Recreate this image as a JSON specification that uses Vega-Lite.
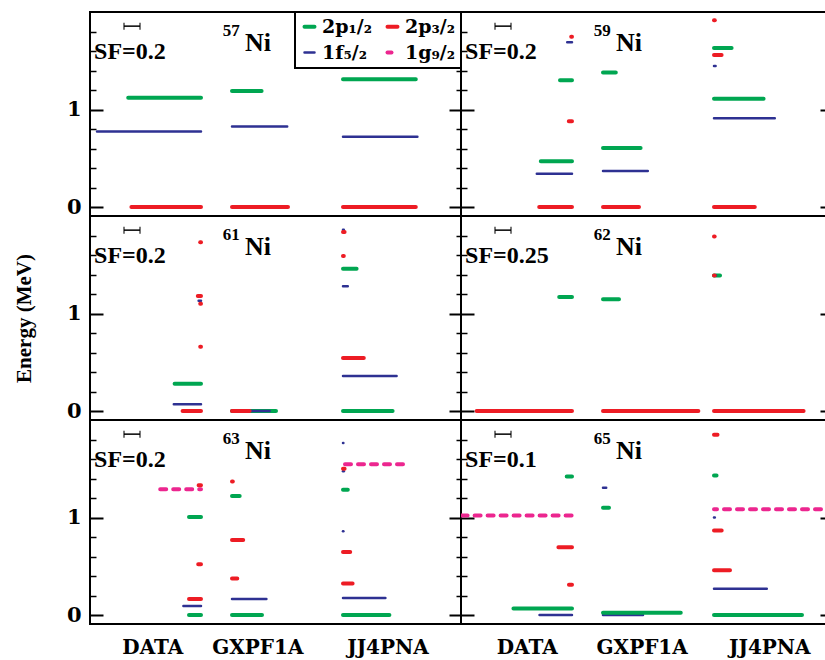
{
  "$schema": "https://vega.github.io/schema/vega-lite/v6.json",
  "background": "white",
  "padding": {"left": 12, "top": 10, "right": 0, "bottom": 0},
  "config": {
    "view": {"stroke": "black", "strokeWidth": 2},
    "concat": {"spacing": 0},
    "axis": {"domain": false, "grid": false, "labels": false, "tickColor": "black", "labelColor": "black", "titleColor": "black", "labelFont": "DejaVu Serif", "labelFontWeight": "bold", "titleFont": "Liberation Serif", "titleFontWeight": "bold", "labelFlush": false, "labelOverlap": false}
  },
  "datasets": {
    "levels": [
      {"nucleus": "57Ni", "model": "DATA", "orbital": "2p₁/₂", "energy": 1.12, "sf": 0.91},
      {"nucleus": "57Ni", "model": "DATA", "orbital": "1f₅/₂", "energy": 0.775, "sf": 1.30},
      {"nucleus": "57Ni", "model": "DATA", "orbital": "2p₃/₂", "energy": 0, "sf": 0.87},
      {"nucleus": "57Ni", "model": "GXPF1A", "orbital": "2p₁/₂", "energy": 1.19, "sf": 0.37},
      {"nucleus": "57Ni", "model": "GXPF1A", "orbital": "1f₅/₂", "energy": 0.825, "sf": 0.69},
      {"nucleus": "57Ni", "model": "GXPF1A", "orbital": "2p₃/₂", "energy": 0, "sf": 0.70},
      {"nucleus": "57Ni", "model": "JJ4PNA", "orbital": "2p₁/₂", "energy": 1.31, "sf": 0.91},
      {"nucleus": "57Ni", "model": "JJ4PNA", "orbital": "1f₅/₂", "energy": 0.72, "sf": 0.93},
      {"nucleus": "57Ni", "model": "JJ4PNA", "orbital": "2p₃/₂", "energy": 0, "sf": 0.91},

      {"nucleus": "59Ni", "model": "DATA", "orbital": "2p₁/₂", "energy": 1.30, "sf": 0.15},
      {"nucleus": "59Ni", "model": "DATA", "orbital": "2p₁/₂", "energy": 0.47, "sf": 0.39},
      {"nucleus": "59Ni", "model": "DATA", "orbital": "1f₅/₂", "energy": 1.69, "sf": 0.06},
      {"nucleus": "59Ni", "model": "DATA", "orbital": "1f₅/₂", "energy": 0.34, "sf": 0.44},
      {"nucleus": "59Ni", "model": "DATA", "orbital": "2p₃/₂", "energy": 1.745, "sf": 0.01},
      {"nucleus": "59Ni", "model": "DATA", "orbital": "2p₃/₂", "energy": 0.88, "sf": 0.04},
      {"nucleus": "59Ni", "model": "DATA", "orbital": "2p₃/₂", "energy": 0, "sf": 0.41},
      {"nucleus": "59Ni", "model": "GXPF1A", "orbital": "2p₁/₂", "energy": 1.38, "sf": 0.16},
      {"nucleus": "59Ni", "model": "GXPF1A", "orbital": "2p₁/₂", "energy": 0.605, "sf": 0.47},
      {"nucleus": "59Ni", "model": "GXPF1A", "orbital": "1f₅/₂", "energy": 0.37, "sf": 0.56},
      {"nucleus": "59Ni", "model": "GXPF1A", "orbital": "2p₃/₂", "energy": 0, "sf": 0.45},
      {"nucleus": "59Ni", "model": "JJ4PNA", "orbital": "2p₁/₂", "energy": 1.63, "sf": 0.22},
      {"nucleus": "59Ni", "model": "JJ4PNA", "orbital": "2p₁/₂", "energy": 1.11, "sf": 0.62},
      {"nucleus": "59Ni", "model": "JJ4PNA", "orbital": "1f₅/₂", "energy": 1.445, "sf": 0.02},
      {"nucleus": "59Ni", "model": "JJ4PNA", "orbital": "1f₅/₂", "energy": 0.91, "sf": 0.76},
      {"nucleus": "59Ni", "model": "JJ4PNA", "orbital": "2p₃/₂", "energy": 1.915, "sf": 0.01},
      {"nucleus": "59Ni", "model": "JJ4PNA", "orbital": "2p₃/₂", "energy": 1.56, "sf": 0.095},
      {"nucleus": "59Ni", "model": "JJ4PNA", "orbital": "2p₃/₂", "energy": 0, "sf": 0.51},

      {"nucleus": "61Ni", "model": "DATA", "orbital": "2p₁/₂", "energy": 0.28, "sf": 0.33},
      {"nucleus": "61Ni", "model": "DATA", "orbital": "1f₅/₂", "energy": 1.13, "sf": 0.03},
      {"nucleus": "61Ni", "model": "DATA", "orbital": "1f₅/₂", "energy": 0.07, "sf": 0.34},
      {"nucleus": "61Ni", "model": "DATA", "orbital": "2p₃/₂", "energy": 1.73, "sf": 0.01},
      {"nucleus": "61Ni", "model": "DATA", "orbital": "2p₃/₂", "energy": 1.18, "sf": 0.04},
      {"nucleus": "61Ni", "model": "DATA", "orbital": "2p₃/₂", "energy": 1.10, "sf": 0.01},
      {"nucleus": "61Ni", "model": "DATA", "orbital": "2p₃/₂", "energy": 0.66, "sf": 0.01},
      {"nucleus": "61Ni", "model": "DATA", "orbital": "2p₃/₂", "energy": 0, "sf": 0.23},
      {"nucleus": "61Ni", "model": "GXPF1A", "orbital": "2p₁/₂", "energy": 0, "sf": 0.55},
      {"nucleus": "61Ni", "model": "GXPF1A", "orbital": "1f₅/₂", "energy": 0, "sf": 0.47},
      {"nucleus": "61Ni", "model": "GXPF1A", "orbital": "2p₃/₂", "energy": 0, "sf": 0.22},
      {"nucleus": "61Ni", "model": "JJ4PNA", "orbital": "2p₁/₂", "energy": 1.46, "sf": 0.17},
      {"nucleus": "61Ni", "model": "JJ4PNA", "orbital": "2p₁/₂", "energy": 0, "sf": 0.62},
      {"nucleus": "61Ni", "model": "JJ4PNA", "orbital": "1f₅/₂", "energy": 1.86, "sf": 0.01},
      {"nucleus": "61Ni", "model": "JJ4PNA", "orbital": "1f₅/₂", "energy": 1.28, "sf": 0.06},
      {"nucleus": "61Ni", "model": "JJ4PNA", "orbital": "1f₅/₂", "energy": 0.36, "sf": 0.67},
      {"nucleus": "61Ni", "model": "JJ4PNA", "orbital": "2p₃/₂", "energy": 1.835, "sf": 0.02},
      {"nucleus": "61Ni", "model": "JJ4PNA", "orbital": "2p₃/₂", "energy": 1.59, "sf": 0.01},
      {"nucleus": "61Ni", "model": "JJ4PNA", "orbital": "2p₃/₂", "energy": 0.545, "sf": 0.26},

      {"nucleus": "62Ni", "model": "DATA", "orbital": "2p₁/₂", "energy": 1.17, "sf": 0.20},
      {"nucleus": "62Ni", "model": "DATA", "orbital": "2p₃/₂", "energy": 0, "sf": 1.49},
      {"nucleus": "62Ni", "model": "GXPF1A", "orbital": "2p₁/₂", "energy": 1.146, "sf": 0.25},
      {"nucleus": "62Ni", "model": "GXPF1A", "orbital": "2p₃/₂", "energy": 0, "sf": 1.49},
      {"nucleus": "62Ni", "model": "JJ4PNA", "orbital": "2p₁/₂", "energy": 1.39, "sf": 0.094},
      {"nucleus": "62Ni", "model": "JJ4PNA", "orbital": "1f₅/₂", "energy": 1.39, "sf": 0.03},
      {"nucleus": "62Ni", "model": "JJ4PNA", "orbital": "2p₃/₂", "energy": 1.79, "sf": 0.01},
      {"nucleus": "62Ni", "model": "JJ4PNA", "orbital": "2p₃/₂", "energy": 1.39, "sf": 0.01},
      {"nucleus": "62Ni", "model": "JJ4PNA", "orbital": "2p₃/₂", "energy": 0, "sf": 1.40},

      {"nucleus": "63Ni", "model": "DATA", "orbital": "1g₉/₂", "energy": 1.29, "sf": 0.51},
      {"nucleus": "63Ni", "model": "DATA", "orbital": "2p₁/₂", "energy": 1.005, "sf": 0.15},
      {"nucleus": "63Ni", "model": "DATA", "orbital": "2p₁/₂", "energy": 0, "sf": 0.15},
      {"nucleus": "63Ni", "model": "DATA", "orbital": "1f₅/₂", "energy": 0.092, "sf": 0.22},
      {"nucleus": "63Ni", "model": "DATA", "orbital": "2p₃/₂", "energy": 1.33, "sf": 0.03},
      {"nucleus": "63Ni", "model": "DATA", "orbital": "2p₃/₂", "energy": 0.52, "sf": 0.035},
      {"nucleus": "63Ni", "model": "DATA", "orbital": "2p₃/₂", "energy": 0.164, "sf": 0.15},
      {"nucleus": "63Ni", "model": "GXPF1A", "orbital": "2p₁/₂", "energy": 1.22, "sf": 0.096},
      {"nucleus": "63Ni", "model": "GXPF1A", "orbital": "2p₁/₂", "energy": 0, "sf": 0.375},
      {"nucleus": "63Ni", "model": "GXPF1A", "orbital": "1f₅/₂", "energy": 0.164, "sf": 0.43},
      {"nucleus": "63Ni", "model": "GXPF1A", "orbital": "2p₃/₂", "energy": 1.37, "sf": 0.01},
      {"nucleus": "63Ni", "model": "GXPF1A", "orbital": "2p₃/₂", "energy": 0.77, "sf": 0.14},
      {"nucleus": "63Ni", "model": "GXPF1A", "orbital": "2p₃/₂", "energy": 0.375, "sf": 0.066},
      {"nucleus": "63Ni", "model": "JJ4PNA", "orbital": "1g₉/₂", "energy": 1.547, "sf": 0.75},
      {"nucleus": "63Ni", "model": "JJ4PNA", "orbital": "2p₁/₂", "energy": 1.285, "sf": 0.06},
      {"nucleus": "63Ni", "model": "JJ4PNA", "orbital": "2p₁/₂", "energy": 0, "sf": 0.58},
      {"nucleus": "63Ni", "model": "JJ4PNA", "orbital": "1f₅/₂", "energy": 1.765, "sf": 0.005},
      {"nucleus": "63Ni", "model": "JJ4PNA", "orbital": "1f₅/₂", "energy": 1.475, "sf": 0.01},
      {"nucleus": "63Ni", "model": "JJ4PNA", "orbital": "1f₅/₂", "energy": 0.86, "sf": 0.005},
      {"nucleus": "63Ni", "model": "JJ4PNA", "orbital": "1f₅/₂", "energy": 0.174, "sf": 0.53},
      {"nucleus": "63Ni", "model": "JJ4PNA", "orbital": "2p₃/₂", "energy": 1.50, "sf": 0.02},
      {"nucleus": "63Ni", "model": "JJ4PNA", "orbital": "2p₃/₂", "energy": 0.647, "sf": 0.09},
      {"nucleus": "63Ni", "model": "JJ4PNA", "orbital": "2p₃/₂", "energy": 0.324, "sf": 0.12},

      {"nucleus": "65Ni", "model": "DATA", "orbital": "1g₉/₂", "energy": 1.02, "sf": 0.69},
      {"nucleus": "65Ni", "model": "DATA", "orbital": "2p₁/₂", "energy": 1.42, "sf": 0.033},
      {"nucleus": "65Ni", "model": "DATA", "orbital": "2p₁/₂", "energy": 0.068, "sf": 0.366},
      {"nucleus": "65Ni", "model": "DATA", "orbital": "1f₅/₂", "energy": 0, "sf": 0.203},
      {"nucleus": "65Ni", "model": "DATA", "orbital": "2p₃/₂", "energy": 0.695, "sf": 0.085},
      {"nucleus": "65Ni", "model": "DATA", "orbital": "2p₃/₂", "energy": 0.31, "sf": 0.019},
      {"nucleus": "65Ni", "model": "GXPF1A", "orbital": "1f₅/₂", "energy": 1.305, "sf": 0.02},
      {"nucleus": "65Ni", "model": "GXPF1A", "orbital": "1f₅/₂", "energy": 0, "sf": 0.25},
      {"nucleus": "65Ni", "model": "GXPF1A", "orbital": "2p₁/₂", "energy": 1.10, "sf": 0.0375},
      {"nucleus": "65Ni", "model": "GXPF1A", "orbital": "2p₁/₂", "energy": 0.024, "sf": 0.486},
      {"nucleus": "65Ni", "model": "JJ4PNA", "orbital": "1g₉/₂", "energy": 1.085, "sf": 0.75},
      {"nucleus": "65Ni", "model": "JJ4PNA", "orbital": "2p₁/₂", "energy": 1.43, "sf": 0.016},
      {"nucleus": "65Ni", "model": "JJ4PNA", "orbital": "2p₁/₂", "energy": 0, "sf": 0.55},
      {"nucleus": "65Ni", "model": "JJ4PNA", "orbital": "1f₅/₂", "energy": 1.0, "sf": 0.005},
      {"nucleus": "65Ni", "model": "JJ4PNA", "orbital": "1f₅/₂", "energy": 0.269, "sf": 0.33},
      {"nucleus": "65Ni", "model": "JJ4PNA", "orbital": "2p₃/₂", "energy": 1.85, "sf": 0.022},
      {"nucleus": "65Ni", "model": "JJ4PNA", "orbital": "2p₃/₂", "energy": 0.866, "sf": 0.048},
      {"nucleus": "65Ni", "model": "JJ4PNA", "orbital": "2p₃/₂", "energy": 0.46, "sf": 0.10}
    ],
    "panels": [
      {"nucleus": "57Ni", "mass": "57", "element": "Ni", "sfLabel": "SF=0.2", "sfRef": 0.2},
      {"nucleus": "59Ni", "mass": "59", "element": "Ni", "sfLabel": "SF=0.2", "sfRef": 0.2},
      {"nucleus": "61Ni", "mass": "61", "element": "Ni", "sfLabel": "SF=0.2", "sfRef": 0.2},
      {"nucleus": "62Ni", "mass": "62", "element": "Ni", "sfLabel": "SF=0.25", "sfRef": 0.25},
      {"nucleus": "63Ni", "mass": "63", "element": "Ni", "sfLabel": "SF=0.2", "sfRef": 0.2},
      {"nucleus": "65Ni", "mass": "65", "element": "Ni", "sfLabel": "SF=0.1", "sfRef": 0.1}
    ]
  },
  "resolve": {"legend": {"color": "independent"}},
  "columns": 2,
  "spacing": 0,
  "bounds": "flush",
  "concat": [
        {
          "width": 371, "height": 204,
          "data": {"name": "levels"},
          "resolve": {"scale": {"x": "independent"}, "axis": {"x": "independent", "y": "independent"}},
          "layer": [
            {"transform": [{"filter": "datum.nucleus === '57Ni' && datum.model === 'DATA'"}],
             "mark": {"type": "rule", "strokeCap": "round", "clip": true},
             "encoding": {
               "x": {"field": "sf", "type": "quantitative", "scale": {"domain": [-3.25, 1.3875], "reverse": true, "nice": false, "zero": false}, "axis": null},
               "x2": {"datum": 0},
               "y": {"field": "energy", "type": "quantitative", "scale": {"domain": [-0.092, 2.0], "nice": false, "zero": false}, "axis": {"orient": "left", "offset": 0, "values": [0, 1], "ticks": false, "labels": true, "labelAlign": "right", "labelFontSize": 21, "labelPadding": 9, "title": "Energy (MeV)", "titleFontSize": 21, "titlePadding": 32, "titleOpacity": 0}},
               "color": {"field": "orbital", "type": "nominal", "scale": {"domain": ["2p₁/₂", "2p₃/₂", "1f₅/₂", "1g₉/₂"], "range": ["#00a651", "#ed1c24", "#2e3192", "#ec268f"]},
                 "legend": {"orient": "top-right", "offset": 0, "title": null, "direction": "horizontal", "columns": 2, "symbolType": "stroke", "symbolSize": 100, "symbolStrokeWidth": 4, "labelFont": "DejaVu Serif", "labelFontWeight": "bold", "labelFontSize": 19, "labelColor": "black", "labelOffset": 3, "labelLimit": 0, "columnPadding": 6, "rowPadding": 6, "padding": 5, "strokeColor": "black", "fillColor": "white",
                   "encode": {"legend": {"update": {"strokeWidth": {"value": 2}}}, "symbols": {"update": {"strokeCap": {"value": "round"}, "strokeWidth": {"signal": "datum.value === '1f₅/₂' ? 2.5 : 4"}, "strokeDash": {"signal": "datum.value === '1g₉/₂' ? [4, 6] : [1, 0]"}}}}}},
               "strokeWidth": {"condition": {"test": "datum.orbital === '1f₅/₂'", "value": 2.5}, "value": 4},
               "strokeDash": {"condition": {"test": "datum.orbital === '1g₉/₂'", "value": [6, 7]}, "value": [1, 0]}
             }},
            {"transform": [{"filter": "datum.nucleus === '57Ni' && datum.model === 'GXPF1A'"}],
             "mark": {"type": "rule", "strokeCap": "round", "clip": true},
             "encoding": {
               "x": {"field": "sf", "type": "quantitative", "scale": {"domain": [-1.775, 2.8625], "nice": false, "zero": false}, "axis": null},
               "x2": {"datum": 0},
               "y": {"field": "energy", "type": "quantitative", "scale": {"domain": [-0.092, 2.0], "nice": false, "zero": false}, "axis": {"orient": "left", "values": [0, 1], "tickSize": -13, "tickWidth": 2, "title": null}},
               "color": {"field": "orbital", "type": "nominal", "scale": {"domain": ["2p₁/₂", "2p₃/₂", "1f₅/₂", "1g₉/₂"], "range": ["#00a651", "#ed1c24", "#2e3192", "#ec268f"]},
                 "legend": {"orient": "top-right", "offset": 0, "title": null, "direction": "horizontal", "columns": 2, "symbolType": "stroke", "symbolSize": 100, "symbolStrokeWidth": 4, "labelFont": "DejaVu Serif", "labelFontWeight": "bold", "labelFontSize": 19, "labelColor": "black", "labelOffset": 3, "labelLimit": 0, "columnPadding": 6, "rowPadding": 6, "padding": 5, "strokeColor": "black", "fillColor": "white",
                   "encode": {"legend": {"update": {"strokeWidth": {"value": 2}}}, "symbols": {"update": {"strokeCap": {"value": "round"}, "strokeWidth": {"signal": "datum.value === '1f₅/₂' ? 2.5 : 4"}, "strokeDash": {"signal": "datum.value === '1g₉/₂' ? [4, 6] : [1, 0]"}}}}}},
               "strokeWidth": {"condition": {"test": "datum.orbital === '1f₅/₂'", "value": 2.5}, "value": 4},
               "strokeDash": {"condition": {"test": "datum.orbital === '1g₉/₂'", "value": [6, 7]}, "value": [1, 0]}
             }},
            {"transform": [{"filter": "datum.nucleus === '57Ni' && datum.model === 'JJ4PNA'"}],
             "mark": {"type": "rule", "strokeCap": "round", "clip": true},
             "encoding": {
               "x": {"field": "sf", "type": "quantitative", "scale": {"domain": [-3.1625, 1.475], "nice": false, "zero": false}, "axis": null},
               "x2": {"datum": 0},
               "y": {"field": "energy", "type": "quantitative", "scale": {"domain": [-0.092, 2.0], "nice": false, "zero": false}, "axis": {"orient": "left", "values": [0.2, 0.4, 0.6, 0.8, 1.2, 1.4, 1.6, 1.8], "tickSize": -6, "tickWidth": 1.5, "title": null}},
               "color": {"field": "orbital", "type": "nominal", "scale": {"domain": ["2p₁/₂", "2p₃/₂", "1f₅/₂", "1g₉/₂"], "range": ["#00a651", "#ed1c24", "#2e3192", "#ec268f"]},
                 "legend": {"orient": "top-right", "offset": 0, "title": null, "direction": "horizontal", "columns": 2, "symbolType": "stroke", "symbolSize": 100, "symbolStrokeWidth": 4, "labelFont": "DejaVu Serif", "labelFontWeight": "bold", "labelFontSize": 19, "labelColor": "black", "labelOffset": 3, "labelLimit": 0, "columnPadding": 6, "rowPadding": 6, "padding": 5, "strokeColor": "black", "fillColor": "white",
                   "encode": {"legend": {"update": {"strokeWidth": {"value": 2}}}, "symbols": {"update": {"strokeCap": {"value": "round"}, "strokeWidth": {"signal": "datum.value === '1f₅/₂' ? 2.5 : 4"}, "strokeDash": {"signal": "datum.value === '1g₉/₂' ? [4, 6] : [1, 0]"}}}}}},
               "strokeWidth": {"condition": {"test": "datum.orbital === '1f₅/₂'", "value": 2.5}, "value": 4},
               "strokeDash": {"condition": {"test": "datum.orbital === '1g₉/₂'", "value": [6, 7]}, "value": [1, 0]}
             }},
            {"data": {"name": "panels"},
             "transform": [{"filter": "datum.nucleus === '57Ni'"}],
             "layer": [
               {"mark": {"type": "text", "align": "left", "baseline": "alphabetic", "font": "Liberation Serif", "fontWeight": "bold", "fontSize": 17, "color": "black"},
                "encoding": {"text": {"field": "mass"}, "x": {"datum": 0.358, "type": "quantitative", "scale": {"domain": [0, 1], "nice": false, "zero": false}, "axis": null},
                  "y": {"datum": 1.75, "type": "quantitative", "scale": {"domain": [-0.092, 2.0], "nice": false, "zero": false}, "axis": {"orient": "right", "values": [0, 1], "tickSize": -12, "tickWidth": 2, "title": null}}}},
               {"mark": {"type": "text", "align": "left", "baseline": "alphabetic", "font": "Liberation Serif", "fontWeight": "bold", "fontSize": 26, "color": "black"},
                "encoding": {"text": {"field": "element"}, "x": {"datum": 0.418, "type": "quantitative", "scale": {"domain": [0, 1], "nice": false, "zero": false}, "axis": null},
                  "y": {"datum": 1.6, "type": "quantitative", "scale": {"domain": [-0.092, 2.0], "nice": false, "zero": false}, "axis": {"orient": "right", "values": [0, 1], "tickSize": -12, "tickWidth": 2, "title": null}}}},
               {"mark": {"type": "text", "align": "left", "baseline": "alphabetic", "font": "Liberation Serif", "fontWeight": "bold", "fontSize": 24, "color": "black"},
                "encoding": {"text": {"field": "sfLabel"}, "x": {"datum": 0.011, "type": "quantitative", "scale": {"domain": [0, 1], "nice": false, "zero": false}, "axis": null},
                  "y": {"datum": 1.515, "type": "quantitative", "scale": {"domain": [-0.092, 2.0], "nice": false, "zero": false}, "axis": {"orient": "right", "values": [0, 1], "tickSize": -12, "tickWidth": 2, "title": null}}}}
             ]},
            {"data": {"name": "panels"},
             "transform": [{"filter": "datum.nucleus === '57Ni'"}],
             "layer": [
               {"mark": {"type": "rule", "color": "black", "strokeWidth": 1.5},
                "encoding": {"x": {"field": "sfRef", "type": "quantitative", "scale": {"domain": [-0.425, 4.2125], "nice": false, "zero": false}, "axis": null}, "x2": {"datum": 0},
                  "y": {"datum": 1.855, "type": "quantitative", "scale": {"domain": [-0.092, 2.0], "nice": false, "zero": false}, "axis": {"orient": "right", "values": [0.2, 0.4, 0.6, 0.8, 1.2, 1.4, 1.6, 1.8], "tickSize": -5, "tickWidth": 1.5, "title": null}}}},
               {"mark": {"type": "tick", "orient": "vertical", "color": "black", "thickness": 1.5, "size": 7},
                "encoding": {"x": {"datum": 0, "type": "quantitative", "scale": {"domain": [-0.425, 4.2125], "nice": false, "zero": false}, "axis": null},
                  "y": {"datum": 1.855, "type": "quantitative", "scale": {"domain": [-0.092, 2.0], "nice": false, "zero": false}, "axis": {"orient": "right", "values": [0.2, 0.4, 0.6, 0.8, 1.2, 1.4, 1.6, 1.8], "tickSize": -5, "tickWidth": 1.5, "title": null}}}},
               {"mark": {"type": "tick", "orient": "vertical", "color": "black", "thickness": 1.5, "size": 7},
                "encoding": {"x": {"field": "sfRef", "type": "quantitative", "scale": {"domain": [-0.425, 4.2125], "nice": false, "zero": false}, "axis": null},
                  "y": {"datum": 1.855, "type": "quantitative", "scale": {"domain": [-0.092, 2.0], "nice": false, "zero": false}, "axis": {"orient": "right", "values": [0.2, 0.4, 0.6, 0.8, 1.2, 1.4, 1.6, 1.8], "tickSize": -5, "tickWidth": 1.5, "title": null}}}}
             ]}
          ]
        },
        {
          "width": 371, "height": 204,
          "data": {"name": "levels"},
          "resolve": {"scale": {"x": "independent"}, "axis": {"x": "independent", "y": "independent"}},
          "layer": [
            {"transform": [{"filter": "datum.nucleus === '59Ni' && datum.model === 'DATA'"}],
             "mark": {"type": "rule", "strokeCap": "round", "clip": true},
             "encoding": {
               "x": {"field": "sf", "type": "quantitative", "scale": {"domain": [-3.25, 1.3875], "reverse": true, "nice": false, "zero": false}, "axis": null},
               "x2": {"datum": 0},
               "y": {"field": "energy", "type": "quantitative", "scale": {"domain": [-0.092, 2.0], "nice": false, "zero": false}, "axis": {"orient": "left", "values": [0, 1], "tickSize": -13, "tickWidth": 2, "title": null}},
               "color": {"field": "orbital", "type": "nominal", "scale": {"domain": ["2p₁/₂", "2p₃/₂", "1f₅/₂", "1g₉/₂"], "range": ["#00a651", "#ed1c24", "#2e3192", "#ec268f"]}, "legend": null},
               "strokeWidth": {"condition": {"test": "datum.orbital === '1f₅/₂'", "value": 2.5}, "value": 4},
               "strokeDash": {"condition": {"test": "datum.orbital === '1g₉/₂'", "value": [6, 7]}, "value": [1, 0]}
             }},
            {"transform": [{"filter": "datum.nucleus === '59Ni' && datum.model === 'GXPF1A'"}],
             "mark": {"type": "rule", "strokeCap": "round", "clip": true},
             "encoding": {
               "x": {"field": "sf", "type": "quantitative", "scale": {"domain": [-1.775, 2.8625], "nice": false, "zero": false}, "axis": null},
               "x2": {"datum": 0},
               "y": {"field": "energy", "type": "quantitative", "scale": {"domain": [-0.092, 2.0], "nice": false, "zero": false}, "axis": {"orient": "left", "values": [0.2, 0.4, 0.6, 0.8, 1.2, 1.4, 1.6, 1.8], "tickSize": -6, "tickWidth": 1.5, "title": null}},
               "color": {"field": "orbital", "type": "nominal", "scale": {"domain": ["2p₁/₂", "2p₃/₂", "1f₅/₂", "1g₉/₂"], "range": ["#00a651", "#ed1c24", "#2e3192", "#ec268f"]}, "legend": null},
               "strokeWidth": {"condition": {"test": "datum.orbital === '1f₅/₂'", "value": 2.5}, "value": 4},
               "strokeDash": {"condition": {"test": "datum.orbital === '1g₉/₂'", "value": [6, 7]}, "value": [1, 0]}
             }},
            {"transform": [{"filter": "datum.nucleus === '59Ni' && datum.model === 'JJ4PNA'"}],
             "mark": {"type": "rule", "strokeCap": "round", "clip": true},
             "encoding": {
               "x": {"field": "sf", "type": "quantitative", "scale": {"domain": [-3.1625, 1.475], "nice": false, "zero": false}, "axis": null},
               "x2": {"datum": 0},
               "y": {"field": "energy", "type": "quantitative", "scale": {"domain": [-0.092, 2.0], "nice": false, "zero": false}, "axis": {"orient": "right", "values": [0, 1], "tickSize": -12, "tickWidth": 2, "title": null}},
               "color": {"field": "orbital", "type": "nominal", "scale": {"domain": ["2p₁/₂", "2p₃/₂", "1f₅/₂", "1g₉/₂"], "range": ["#00a651", "#ed1c24", "#2e3192", "#ec268f"]}, "legend": null},
               "strokeWidth": {"condition": {"test": "datum.orbital === '1f₅/₂'", "value": 2.5}, "value": 4},
               "strokeDash": {"condition": {"test": "datum.orbital === '1g₉/₂'", "value": [6, 7]}, "value": [1, 0]}
             }},
            {"data": {"name": "panels"},
             "transform": [{"filter": "datum.nucleus === '59Ni'"}],
             "layer": [
               {"mark": {"type": "text", "align": "left", "baseline": "alphabetic", "font": "Liberation Serif", "fontWeight": "bold", "fontSize": 17, "color": "black"},
                "encoding": {"text": {"field": "mass"}, "x": {"datum": 0.358, "type": "quantitative", "scale": {"domain": [0, 1], "nice": false, "zero": false}, "axis": null},
                  "y": {"datum": 1.75, "type": "quantitative", "scale": {"domain": [-0.092, 2.0], "nice": false, "zero": false}, "axis": {"orient": "right", "values": [0.2, 0.4, 0.6, 0.8, 1.2, 1.4, 1.6, 1.8], "tickSize": -5, "tickWidth": 1.5, "title": null}}}},
               {"mark": {"type": "text", "align": "left", "baseline": "alphabetic", "font": "Liberation Serif", "fontWeight": "bold", "fontSize": 26, "color": "black"},
                "encoding": {"text": {"field": "element"}, "x": {"datum": 0.418, "type": "quantitative", "scale": {"domain": [0, 1], "nice": false, "zero": false}, "axis": null},
                  "y": {"datum": 1.6, "type": "quantitative", "scale": {"domain": [-0.092, 2.0], "nice": false, "zero": false}, "axis": {"orient": "right", "values": [0.2, 0.4, 0.6, 0.8, 1.2, 1.4, 1.6, 1.8], "tickSize": -5, "tickWidth": 1.5, "title": null}}}},
               {"mark": {"type": "text", "align": "left", "baseline": "alphabetic", "font": "Liberation Serif", "fontWeight": "bold", "fontSize": 24, "color": "black"},
                "encoding": {"text": {"field": "sfLabel"}, "x": {"datum": 0.011, "type": "quantitative", "scale": {"domain": [0, 1], "nice": false, "zero": false}, "axis": null},
                  "y": {"datum": 1.515, "type": "quantitative", "scale": {"domain": [-0.092, 2.0], "nice": false, "zero": false}, "axis": {"orient": "right", "values": [0.2, 0.4, 0.6, 0.8, 1.2, 1.4, 1.6, 1.8], "tickSize": -5, "tickWidth": 1.5, "title": null}}}}
             ]},
            {"data": {"name": "panels"},
             "transform": [{"filter": "datum.nucleus === '59Ni'"}],
             "layer": [
               {"mark": {"type": "rule", "color": "black", "strokeWidth": 1.5},
                "encoding": {"x": {"field": "sfRef", "type": "quantitative", "scale": {"domain": [-0.425, 4.2125], "nice": false, "zero": false}, "axis": null}, "x2": {"datum": 0},
                  "y": {"datum": 1.855, "type": "quantitative", "scale": {"domain": [-0.092, 2.0], "nice": false, "zero": false}, "axis": null}}},
               {"mark": {"type": "tick", "orient": "vertical", "color": "black", "thickness": 1.5, "size": 7},
                "encoding": {"x": {"datum": 0, "type": "quantitative", "scale": {"domain": [-0.425, 4.2125], "nice": false, "zero": false}, "axis": null},
                  "y": {"datum": 1.855, "type": "quantitative", "scale": {"domain": [-0.092, 2.0], "nice": false, "zero": false}, "axis": null}}},
               {"mark": {"type": "tick", "orient": "vertical", "color": "black", "thickness": 1.5, "size": 7},
                "encoding": {"x": {"field": "sfRef", "type": "quantitative", "scale": {"domain": [-0.425, 4.2125], "nice": false, "zero": false}, "axis": null},
                  "y": {"datum": 1.855, "type": "quantitative", "scale": {"domain": [-0.092, 2.0], "nice": false, "zero": false}, "axis": null}}}
             ]}
          ]
        },
        {
          "width": 371, "height": 204,
          "data": {"name": "levels"},
          "resolve": {"scale": {"x": "independent"}, "axis": {"x": "independent", "y": "independent"}},
          "layer": [
            {"transform": [{"filter": "datum.nucleus === '61Ni' && datum.model === 'DATA'"}],
             "mark": {"type": "rule", "strokeCap": "round", "clip": true},
             "encoding": {
               "x": {"field": "sf", "type": "quantitative", "scale": {"domain": [-3.25, 1.3875], "reverse": true, "nice": false, "zero": false}, "axis": null},
               "x2": {"datum": 0},
               "y": {"field": "energy", "type": "quantitative", "scale": {"domain": [-0.092, 2.0], "nice": false, "zero": false}, "axis": {"orient": "left", "offset": 0, "values": [0, 1], "ticks": false, "labels": true, "labelAlign": "right", "labelFontSize": 21, "labelPadding": 9, "title": "Energy (MeV)", "titleFontSize": 21, "titlePadding": 32}},
               "color": {"field": "orbital", "type": "nominal", "scale": {"domain": ["2p₁/₂", "2p₃/₂", "1f₅/₂", "1g₉/₂"], "range": ["#00a651", "#ed1c24", "#2e3192", "#ec268f"]}, "legend": null},
               "strokeWidth": {"condition": {"test": "datum.orbital === '1f₅/₂'", "value": 2.5}, "value": 4},
               "strokeDash": {"condition": {"test": "datum.orbital === '1g₉/₂'", "value": [6, 7]}, "value": [1, 0]}
             }},
            {"transform": [{"filter": "datum.nucleus === '61Ni' && datum.model === 'GXPF1A'"}],
             "mark": {"type": "rule", "strokeCap": "round", "clip": true},
             "encoding": {
               "x": {"field": "sf", "type": "quantitative", "scale": {"domain": [-1.775, 2.8625], "nice": false, "zero": false}, "axis": null},
               "x2": {"datum": 0},
               "y": {"field": "energy", "type": "quantitative", "scale": {"domain": [-0.092, 2.0], "nice": false, "zero": false}, "axis": {"orient": "left", "values": [0, 1], "tickSize": -13, "tickWidth": 2, "title": null}},
               "color": {"field": "orbital", "type": "nominal", "scale": {"domain": ["2p₁/₂", "2p₃/₂", "1f₅/₂", "1g₉/₂"], "range": ["#00a651", "#ed1c24", "#2e3192", "#ec268f"]}, "legend": null},
               "strokeWidth": {"condition": {"test": "datum.orbital === '1f₅/₂'", "value": 2.5}, "value": 4},
               "strokeDash": {"condition": {"test": "datum.orbital === '1g₉/₂'", "value": [6, 7]}, "value": [1, 0]}
             }},
            {"transform": [{"filter": "datum.nucleus === '61Ni' && datum.model === 'JJ4PNA'"}],
             "mark": {"type": "rule", "strokeCap": "round", "clip": true},
             "encoding": {
               "x": {"field": "sf", "type": "quantitative", "scale": {"domain": [-3.1625, 1.475], "nice": false, "zero": false}, "axis": null},
               "x2": {"datum": 0},
               "y": {"field": "energy", "type": "quantitative", "scale": {"domain": [-0.092, 2.0], "nice": false, "zero": false}, "axis": {"orient": "left", "values": [0.2, 0.4, 0.6, 0.8, 1.2, 1.4, 1.6, 1.8], "tickSize": -6, "tickWidth": 1.5, "title": null}},
               "color": {"field": "orbital", "type": "nominal", "scale": {"domain": ["2p₁/₂", "2p₃/₂", "1f₅/₂", "1g₉/₂"], "range": ["#00a651", "#ed1c24", "#2e3192", "#ec268f"]}, "legend": null},
               "strokeWidth": {"condition": {"test": "datum.orbital === '1f₅/₂'", "value": 2.5}, "value": 4},
               "strokeDash": {"condition": {"test": "datum.orbital === '1g₉/₂'", "value": [6, 7]}, "value": [1, 0]}
             }},
            {"data": {"name": "panels"},
             "transform": [{"filter": "datum.nucleus === '61Ni'"}],
             "layer": [
               {"mark": {"type": "text", "align": "left", "baseline": "alphabetic", "font": "Liberation Serif", "fontWeight": "bold", "fontSize": 17, "color": "black"},
                "encoding": {"text": {"field": "mass"}, "x": {"datum": 0.358, "type": "quantitative", "scale": {"domain": [0, 1], "nice": false, "zero": false}, "axis": null},
                  "y": {"datum": 1.75, "type": "quantitative", "scale": {"domain": [-0.092, 2.0], "nice": false, "zero": false}, "axis": {"orient": "right", "values": [0, 1], "tickSize": -12, "tickWidth": 2, "title": null}}}},
               {"mark": {"type": "text", "align": "left", "baseline": "alphabetic", "font": "Liberation Serif", "fontWeight": "bold", "fontSize": 26, "color": "black"},
                "encoding": {"text": {"field": "element"}, "x": {"datum": 0.418, "type": "quantitative", "scale": {"domain": [0, 1], "nice": false, "zero": false}, "axis": null},
                  "y": {"datum": 1.6, "type": "quantitative", "scale": {"domain": [-0.092, 2.0], "nice": false, "zero": false}, "axis": {"orient": "right", "values": [0, 1], "tickSize": -12, "tickWidth": 2, "title": null}}}},
               {"mark": {"type": "text", "align": "left", "baseline": "alphabetic", "font": "Liberation Serif", "fontWeight": "bold", "fontSize": 24, "color": "black"},
                "encoding": {"text": {"field": "sfLabel"}, "x": {"datum": 0.011, "type": "quantitative", "scale": {"domain": [0, 1], "nice": false, "zero": false}, "axis": null},
                  "y": {"datum": 1.515, "type": "quantitative", "scale": {"domain": [-0.092, 2.0], "nice": false, "zero": false}, "axis": {"orient": "right", "values": [0, 1], "tickSize": -12, "tickWidth": 2, "title": null}}}}
             ]},
            {"data": {"name": "panels"},
             "transform": [{"filter": "datum.nucleus === '61Ni'"}],
             "layer": [
               {"mark": {"type": "rule", "color": "black", "strokeWidth": 1.5},
                "encoding": {"x": {"field": "sfRef", "type": "quantitative", "scale": {"domain": [-0.425, 4.2125], "nice": false, "zero": false}, "axis": null}, "x2": {"datum": 0},
                  "y": {"datum": 1.855, "type": "quantitative", "scale": {"domain": [-0.092, 2.0], "nice": false, "zero": false}, "axis": {"orient": "right", "values": [0.2, 0.4, 0.6, 0.8, 1.2, 1.4, 1.6, 1.8], "tickSize": -5, "tickWidth": 1.5, "title": null}}}},
               {"mark": {"type": "tick", "orient": "vertical", "color": "black", "thickness": 1.5, "size": 7},
                "encoding": {"x": {"datum": 0, "type": "quantitative", "scale": {"domain": [-0.425, 4.2125], "nice": false, "zero": false}, "axis": null},
                  "y": {"datum": 1.855, "type": "quantitative", "scale": {"domain": [-0.092, 2.0], "nice": false, "zero": false}, "axis": {"orient": "right", "values": [0.2, 0.4, 0.6, 0.8, 1.2, 1.4, 1.6, 1.8], "tickSize": -5, "tickWidth": 1.5, "title": null}}}},
               {"mark": {"type": "tick", "orient": "vertical", "color": "black", "thickness": 1.5, "size": 7},
                "encoding": {"x": {"field": "sfRef", "type": "quantitative", "scale": {"domain": [-0.425, 4.2125], "nice": false, "zero": false}, "axis": null},
                  "y": {"datum": 1.855, "type": "quantitative", "scale": {"domain": [-0.092, 2.0], "nice": false, "zero": false}, "axis": {"orient": "right", "values": [0.2, 0.4, 0.6, 0.8, 1.2, 1.4, 1.6, 1.8], "tickSize": -5, "tickWidth": 1.5, "title": null}}}}
             ]}
          ]
        },
        {
          "width": 371, "height": 204,
          "data": {"name": "levels"},
          "resolve": {"scale": {"x": "independent"}, "axis": {"x": "independent", "y": "independent"}},
          "layer": [
            {"transform": [{"filter": "datum.nucleus === '62Ni' && datum.model === 'DATA'"}],
             "mark": {"type": "rule", "strokeCap": "round", "clip": true},
             "encoding": {
               "x": {"field": "sf", "type": "quantitative", "scale": {"domain": [-4.0625, 1.734375], "reverse": true, "nice": false, "zero": false}, "axis": null},
               "x2": {"datum": 0},
               "y": {"field": "energy", "type": "quantitative", "scale": {"domain": [-0.092, 2.0], "nice": false, "zero": false}, "axis": {"orient": "left", "values": [0, 1], "tickSize": -13, "tickWidth": 2, "title": null}},
               "color": {"field": "orbital", "type": "nominal", "scale": {"domain": ["2p₁/₂", "2p₃/₂", "1f₅/₂", "1g₉/₂"], "range": ["#00a651", "#ed1c24", "#2e3192", "#ec268f"]}, "legend": null},
               "strokeWidth": {"condition": {"test": "datum.orbital === '1f₅/₂'", "value": 2.5}, "value": 4},
               "strokeDash": {"condition": {"test": "datum.orbital === '1g₉/₂'", "value": [6, 7]}, "value": [1, 0]}
             }},
            {"transform": [{"filter": "datum.nucleus === '62Ni' && datum.model === 'GXPF1A'"}],
             "mark": {"type": "rule", "strokeCap": "round", "clip": true},
             "encoding": {
               "x": {"field": "sf", "type": "quantitative", "scale": {"domain": [-2.21875, 3.578125], "nice": false, "zero": false}, "axis": null},
               "x2": {"datum": 0},
               "y": {"field": "energy", "type": "quantitative", "scale": {"domain": [-0.092, 2.0], "nice": false, "zero": false}, "axis": {"orient": "left", "values": [0.2, 0.4, 0.6, 0.8, 1.2, 1.4, 1.6, 1.8], "tickSize": -6, "tickWidth": 1.5, "title": null}},
               "color": {"field": "orbital", "type": "nominal", "scale": {"domain": ["2p₁/₂", "2p₃/₂", "1f₅/₂", "1g₉/₂"], "range": ["#00a651", "#ed1c24", "#2e3192", "#ec268f"]}, "legend": null},
               "strokeWidth": {"condition": {"test": "datum.orbital === '1f₅/₂'", "value": 2.5}, "value": 4},
               "strokeDash": {"condition": {"test": "datum.orbital === '1g₉/₂'", "value": [6, 7]}, "value": [1, 0]}
             }},
            {"transform": [{"filter": "datum.nucleus === '62Ni' && datum.model === 'JJ4PNA'"}],
             "mark": {"type": "rule", "strokeCap": "round", "clip": true},
             "encoding": {
               "x": {"field": "sf", "type": "quantitative", "scale": {"domain": [-3.953125, 1.84375], "nice": false, "zero": false}, "axis": null},
               "x2": {"datum": 0},
               "y": {"field": "energy", "type": "quantitative", "scale": {"domain": [-0.092, 2.0], "nice": false, "zero": false}, "axis": {"orient": "right", "values": [0, 1], "tickSize": -12, "tickWidth": 2, "title": null}},
               "color": {"field": "orbital", "type": "nominal", "scale": {"domain": ["2p₁/₂", "2p₃/₂", "1f₅/₂", "1g₉/₂"], "range": ["#00a651", "#ed1c24", "#2e3192", "#ec268f"]}, "legend": null},
               "strokeWidth": {"condition": {"test": "datum.orbital === '1f₅/₂'", "value": 2.5}, "value": 4},
               "strokeDash": {"condition": {"test": "datum.orbital === '1g₉/₂'", "value": [6, 7]}, "value": [1, 0]}
             }},
            {"data": {"name": "panels"},
             "transform": [{"filter": "datum.nucleus === '62Ni'"}],
             "layer": [
               {"mark": {"type": "text", "align": "left", "baseline": "alphabetic", "font": "Liberation Serif", "fontWeight": "bold", "fontSize": 17, "color": "black"},
                "encoding": {"text": {"field": "mass"}, "x": {"datum": 0.358, "type": "quantitative", "scale": {"domain": [0, 1], "nice": false, "zero": false}, "axis": null},
                  "y": {"datum": 1.75, "type": "quantitative", "scale": {"domain": [-0.092, 2.0], "nice": false, "zero": false}, "axis": {"orient": "right", "values": [0.2, 0.4, 0.6, 0.8, 1.2, 1.4, 1.6, 1.8], "tickSize": -5, "tickWidth": 1.5, "title": null}}}},
               {"mark": {"type": "text", "align": "left", "baseline": "alphabetic", "font": "Liberation Serif", "fontWeight": "bold", "fontSize": 26, "color": "black"},
                "encoding": {"text": {"field": "element"}, "x": {"datum": 0.418, "type": "quantitative", "scale": {"domain": [0, 1], "nice": false, "zero": false}, "axis": null},
                  "y": {"datum": 1.6, "type": "quantitative", "scale": {"domain": [-0.092, 2.0], "nice": false, "zero": false}, "axis": {"orient": "right", "values": [0.2, 0.4, 0.6, 0.8, 1.2, 1.4, 1.6, 1.8], "tickSize": -5, "tickWidth": 1.5, "title": null}}}},
               {"mark": {"type": "text", "align": "left", "baseline": "alphabetic", "font": "Liberation Serif", "fontWeight": "bold", "fontSize": 24, "color": "black"},
                "encoding": {"text": {"field": "sfLabel"}, "x": {"datum": 0.011, "type": "quantitative", "scale": {"domain": [0, 1], "nice": false, "zero": false}, "axis": null},
                  "y": {"datum": 1.515, "type": "quantitative", "scale": {"domain": [-0.092, 2.0], "nice": false, "zero": false}, "axis": {"orient": "right", "values": [0.2, 0.4, 0.6, 0.8, 1.2, 1.4, 1.6, 1.8], "tickSize": -5, "tickWidth": 1.5, "title": null}}}}
             ]},
            {"data": {"name": "panels"},
             "transform": [{"filter": "datum.nucleus === '62Ni'"}],
             "layer": [
               {"mark": {"type": "rule", "color": "black", "strokeWidth": 1.5},
                "encoding": {"x": {"field": "sfRef", "type": "quantitative", "scale": {"domain": [-0.53125, 5.265625], "nice": false, "zero": false}, "axis": null}, "x2": {"datum": 0},
                  "y": {"datum": 1.855, "type": "quantitative", "scale": {"domain": [-0.092, 2.0], "nice": false, "zero": false}, "axis": null}}},
               {"mark": {"type": "tick", "orient": "vertical", "color": "black", "thickness": 1.5, "size": 7},
                "encoding": {"x": {"datum": 0, "type": "quantitative", "scale": {"domain": [-0.53125, 5.265625], "nice": false, "zero": false}, "axis": null},
                  "y": {"datum": 1.855, "type": "quantitative", "scale": {"domain": [-0.092, 2.0], "nice": false, "zero": false}, "axis": null}}},
               {"mark": {"type": "tick", "orient": "vertical", "color": "black", "thickness": 1.5, "size": 7},
                "encoding": {"x": {"field": "sfRef", "type": "quantitative", "scale": {"domain": [-0.53125, 5.265625], "nice": false, "zero": false}, "axis": null},
                  "y": {"datum": 1.855, "type": "quantitative", "scale": {"domain": [-0.092, 2.0], "nice": false, "zero": false}, "axis": null}}}
             ]}
          ]
        },
        {
          "width": 371, "height": 204,
          "data": {"name": "levels"},
          "resolve": {"scale": {"x": "independent"}, "axis": {"x": "independent", "y": "independent"}},
          "layer": [
            {"transform": [{"filter": "datum.nucleus === '63Ni' && datum.model === 'DATA'"}],
             "mark": {"type": "rule", "strokeCap": "round", "clip": true},
             "encoding": {
               "x": {"field": "sf", "type": "quantitative", "scale": {"domain": [-3.25, 1.3875], "reverse": true, "nice": false, "zero": false}, "axis": null},
               "x2": {"datum": 0},
               "y": {"field": "energy", "type": "quantitative", "scale": {"domain": [-0.092, 2.0], "nice": false, "zero": false}, "axis": {"orient": "left", "offset": 0, "values": [0, 1], "ticks": false, "labels": true, "labelAlign": "right", "labelFontSize": 21, "labelPadding": 9, "title": "Energy (MeV)", "titleFontSize": 21, "titlePadding": 32, "titleOpacity": 0}},
               "color": {"field": "orbital", "type": "nominal", "scale": {"domain": ["2p₁/₂", "2p₃/₂", "1f₅/₂", "1g₉/₂"], "range": ["#00a651", "#ed1c24", "#2e3192", "#ec268f"]}, "legend": null},
               "strokeWidth": {"condition": {"test": "datum.orbital === '1f₅/₂'", "value": 2.5}, "value": 4},
               "strokeDash": {"condition": {"test": "datum.orbital === '1g₉/₂'", "value": [6, 7]}, "value": [1, 0]}
             }},
            {"transform": [{"filter": "datum.nucleus === '63Ni' && datum.model === 'GXPF1A'"}],
             "mark": {"type": "rule", "strokeCap": "round", "clip": true},
             "encoding": {
               "x": {"field": "sf", "type": "quantitative", "scale": {"domain": [-1.775, 2.8625], "nice": false, "zero": false}, "axis": null},
               "x2": {"datum": 0},
               "y": {"field": "energy", "type": "quantitative", "scale": {"domain": [-0.092, 2.0], "nice": false, "zero": false}, "axis": {"orient": "left", "values": [0, 1], "tickSize": -13, "tickWidth": 2, "title": null}},
               "color": {"field": "orbital", "type": "nominal", "scale": {"domain": ["2p₁/₂", "2p₃/₂", "1f₅/₂", "1g₉/₂"], "range": ["#00a651", "#ed1c24", "#2e3192", "#ec268f"]}, "legend": null},
               "strokeWidth": {"condition": {"test": "datum.orbital === '1f₅/₂'", "value": 2.5}, "value": 4},
               "strokeDash": {"condition": {"test": "datum.orbital === '1g₉/₂'", "value": [6, 7]}, "value": [1, 0]}
             }},
            {"transform": [{"filter": "datum.nucleus === '63Ni' && datum.model === 'JJ4PNA'"}],
             "mark": {"type": "rule", "strokeCap": "round", "clip": true},
             "encoding": {
               "x": {"field": "sf", "type": "quantitative", "scale": {"domain": [-3.1625, 1.475], "nice": false, "zero": false}, "axis": null},
               "x2": {"datum": 0},
               "y": {"field": "energy", "type": "quantitative", "scale": {"domain": [-0.092, 2.0], "nice": false, "zero": false}, "axis": {"orient": "left", "values": [0.2, 0.4, 0.6, 0.8, 1.2, 1.4, 1.6, 1.8], "tickSize": -6, "tickWidth": 1.5, "title": null}},
               "color": {"field": "orbital", "type": "nominal", "scale": {"domain": ["2p₁/₂", "2p₃/₂", "1f₅/₂", "1g₉/₂"], "range": ["#00a651", "#ed1c24", "#2e3192", "#ec268f"]}, "legend": null},
               "strokeWidth": {"condition": {"test": "datum.orbital === '1f₅/₂'", "value": 2.5}, "value": 4},
               "strokeDash": {"condition": {"test": "datum.orbital === '1g₉/₂'", "value": [6, 7]}, "value": [1, 0]}
             }},
            {"data": {"name": "panels"},
             "transform": [{"filter": "datum.nucleus === '63Ni'"}],
             "layer": [
               {"mark": {"type": "text", "align": "left", "baseline": "alphabetic", "font": "Liberation Serif", "fontWeight": "bold", "fontSize": 17, "color": "black"},
                "encoding": {"text": {"field": "mass"}, "x": {"datum": 0.358, "type": "quantitative", "scale": {"domain": [0, 1], "nice": false, "zero": false}, "axis": {"orient": "bottom", "values": [0.168, 0.451, 0.802], "labelExpr": "datum.value < 0.3 ? 'DATA' : (datum.value < 0.65 ? 'GXPF1A' : 'JJ4PNA')", "ticks": false, "labels": true, "labelFontSize": 20, "labelPadding": 13, "title": null}},
                  "y": {"datum": 1.75, "type": "quantitative", "scale": {"domain": [-0.092, 2.0], "nice": false, "zero": false}, "axis": {"orient": "right", "values": [0, 1], "tickSize": -12, "tickWidth": 2, "title": null}}}},
               {"mark": {"type": "text", "align": "left", "baseline": "alphabetic", "font": "Liberation Serif", "fontWeight": "bold", "fontSize": 26, "color": "black"},
                "encoding": {"text": {"field": "element"}, "x": {"datum": 0.418, "type": "quantitative", "scale": {"domain": [0, 1], "nice": false, "zero": false}, "axis": {"orient": "bottom", "values": [0.168, 0.451, 0.802], "labelExpr": "datum.value < 0.3 ? 'DATA' : (datum.value < 0.65 ? 'GXPF1A' : 'JJ4PNA')", "ticks": false, "labels": true, "labelFontSize": 20, "labelPadding": 13, "title": null}},
                  "y": {"datum": 1.6, "type": "quantitative", "scale": {"domain": [-0.092, 2.0], "nice": false, "zero": false}, "axis": {"orient": "right", "values": [0, 1], "tickSize": -12, "tickWidth": 2, "title": null}}}},
               {"mark": {"type": "text", "align": "left", "baseline": "alphabetic", "font": "Liberation Serif", "fontWeight": "bold", "fontSize": 24, "color": "black"},
                "encoding": {"text": {"field": "sfLabel"}, "x": {"datum": 0.011, "type": "quantitative", "scale": {"domain": [0, 1], "nice": false, "zero": false}, "axis": {"orient": "bottom", "values": [0.168, 0.451, 0.802], "labelExpr": "datum.value < 0.3 ? 'DATA' : (datum.value < 0.65 ? 'GXPF1A' : 'JJ4PNA')", "ticks": false, "labels": true, "labelFontSize": 20, "labelPadding": 13, "title": null}},
                  "y": {"datum": 1.515, "type": "quantitative", "scale": {"domain": [-0.092, 2.0], "nice": false, "zero": false}, "axis": {"orient": "right", "values": [0, 1], "tickSize": -12, "tickWidth": 2, "title": null}}}}
             ]},
            {"data": {"name": "panels"},
             "transform": [{"filter": "datum.nucleus === '63Ni'"}],
             "layer": [
               {"mark": {"type": "rule", "color": "black", "strokeWidth": 1.5},
                "encoding": {"x": {"field": "sfRef", "type": "quantitative", "scale": {"domain": [-0.425, 4.2125], "nice": false, "zero": false}, "axis": null}, "x2": {"datum": 0},
                  "y": {"datum": 1.855, "type": "quantitative", "scale": {"domain": [-0.092, 2.0], "nice": false, "zero": false}, "axis": {"orient": "right", "values": [0.2, 0.4, 0.6, 0.8, 1.2, 1.4, 1.6, 1.8], "tickSize": -5, "tickWidth": 1.5, "title": null}}}},
               {"mark": {"type": "tick", "orient": "vertical", "color": "black", "thickness": 1.5, "size": 7},
                "encoding": {"x": {"datum": 0, "type": "quantitative", "scale": {"domain": [-0.425, 4.2125], "nice": false, "zero": false}, "axis": null},
                  "y": {"datum": 1.855, "type": "quantitative", "scale": {"domain": [-0.092, 2.0], "nice": false, "zero": false}, "axis": {"orient": "right", "values": [0.2, 0.4, 0.6, 0.8, 1.2, 1.4, 1.6, 1.8], "tickSize": -5, "tickWidth": 1.5, "title": null}}}},
               {"mark": {"type": "tick", "orient": "vertical", "color": "black", "thickness": 1.5, "size": 7},
                "encoding": {"x": {"field": "sfRef", "type": "quantitative", "scale": {"domain": [-0.425, 4.2125], "nice": false, "zero": false}, "axis": null},
                  "y": {"datum": 1.855, "type": "quantitative", "scale": {"domain": [-0.092, 2.0], "nice": false, "zero": false}, "axis": {"orient": "right", "values": [0.2, 0.4, 0.6, 0.8, 1.2, 1.4, 1.6, 1.8], "tickSize": -5, "tickWidth": 1.5, "title": null}}}}
             ]}
          ]
        },
        {
          "width": 371, "height": 204,
          "data": {"name": "levels"},
          "resolve": {"scale": {"x": "independent"}, "axis": {"x": "independent", "y": "independent"}},
          "layer": [
            {"transform": [{"filter": "datum.nucleus === '65Ni' && datum.model === 'DATA'"}],
             "mark": {"type": "rule", "strokeCap": "round", "clip": true},
             "encoding": {
               "x": {"field": "sf", "type": "quantitative", "scale": {"domain": [-1.625, 0.69375], "reverse": true, "nice": false, "zero": false}, "axis": null},
               "x2": {"datum": 0},
               "y": {"field": "energy", "type": "quantitative", "scale": {"domain": [-0.092, 2.0], "nice": false, "zero": false}, "axis": {"orient": "left", "values": [0, 1], "tickSize": -13, "tickWidth": 2, "title": null}},
               "color": {"field": "orbital", "type": "nominal", "scale": {"domain": ["2p₁/₂", "2p₃/₂", "1f₅/₂", "1g₉/₂"], "range": ["#00a651", "#ed1c24", "#2e3192", "#ec268f"]}, "legend": null},
               "strokeWidth": {"condition": {"test": "datum.orbital === '1f₅/₂'", "value": 2.5}, "value": 4},
               "strokeDash": {"condition": {"test": "datum.orbital === '1g₉/₂'", "value": [6, 7]}, "value": [1, 0]}
             }},
            {"transform": [{"filter": "datum.nucleus === '65Ni' && datum.model === 'GXPF1A'"}],
             "mark": {"type": "rule", "strokeCap": "round", "clip": true},
             "encoding": {
               "x": {"field": "sf", "type": "quantitative", "scale": {"domain": [-0.8875, 1.43125], "nice": false, "zero": false}, "axis": null},
               "x2": {"datum": 0},
               "y": {"field": "energy", "type": "quantitative", "scale": {"domain": [-0.092, 2.0], "nice": false, "zero": false}, "axis": {"orient": "left", "values": [0.2, 0.4, 0.6, 0.8, 1.2, 1.4, 1.6, 1.8], "tickSize": -6, "tickWidth": 1.5, "title": null}},
               "color": {"field": "orbital", "type": "nominal", "scale": {"domain": ["2p₁/₂", "2p₃/₂", "1f₅/₂", "1g₉/₂"], "range": ["#00a651", "#ed1c24", "#2e3192", "#ec268f"]}, "legend": null},
               "strokeWidth": {"condition": {"test": "datum.orbital === '1f₅/₂'", "value": 2.5}, "value": 4},
               "strokeDash": {"condition": {"test": "datum.orbital === '1g₉/₂'", "value": [6, 7]}, "value": [1, 0]}
             }},
            {"transform": [{"filter": "datum.nucleus === '65Ni' && datum.model === 'JJ4PNA'"}],
             "mark": {"type": "rule", "strokeCap": "round", "clip": true},
             "encoding": {
               "x": {"field": "sf", "type": "quantitative", "scale": {"domain": [-1.58125, 0.7375], "nice": false, "zero": false}, "axis": null},
               "x2": {"datum": 0},
               "y": {"field": "energy", "type": "quantitative", "scale": {"domain": [-0.092, 2.0], "nice": false, "zero": false}, "axis": {"orient": "right", "values": [0, 1], "tickSize": -12, "tickWidth": 2, "title": null}},
               "color": {"field": "orbital", "type": "nominal", "scale": {"domain": ["2p₁/₂", "2p₃/₂", "1f₅/₂", "1g₉/₂"], "range": ["#00a651", "#ed1c24", "#2e3192", "#ec268f"]}, "legend": null},
               "strokeWidth": {"condition": {"test": "datum.orbital === '1f₅/₂'", "value": 2.5}, "value": 4},
               "strokeDash": {"condition": {"test": "datum.orbital === '1g₉/₂'", "value": [6, 7]}, "value": [1, 0]}
             }},
            {"data": {"name": "panels"},
             "transform": [{"filter": "datum.nucleus === '65Ni'"}],
             "layer": [
               {"mark": {"type": "text", "align": "left", "baseline": "alphabetic", "font": "Liberation Serif", "fontWeight": "bold", "fontSize": 17, "color": "black"},
                "encoding": {"text": {"field": "mass"}, "x": {"datum": 0.358, "type": "quantitative", "scale": {"domain": [0, 1], "nice": false, "zero": false}, "axis": {"orient": "bottom", "values": [0.177, 0.487, 0.831], "labelExpr": "datum.value < 0.3 ? 'DATA' : (datum.value < 0.65 ? 'GXPF1A' : 'JJ4PNA')", "ticks": false, "labels": true, "labelFontSize": 20, "labelPadding": 13, "title": null}},
                  "y": {"datum": 1.75, "type": "quantitative", "scale": {"domain": [-0.092, 2.0], "nice": false, "zero": false}, "axis": {"orient": "right", "values": [0.2, 0.4, 0.6, 0.8, 1.2, 1.4, 1.6, 1.8], "tickSize": -5, "tickWidth": 1.5, "title": null}}}},
               {"mark": {"type": "text", "align": "left", "baseline": "alphabetic", "font": "Liberation Serif", "fontWeight": "bold", "fontSize": 26, "color": "black"},
                "encoding": {"text": {"field": "element"}, "x": {"datum": 0.418, "type": "quantitative", "scale": {"domain": [0, 1], "nice": false, "zero": false}, "axis": {"orient": "bottom", "values": [0.177, 0.487, 0.831], "labelExpr": "datum.value < 0.3 ? 'DATA' : (datum.value < 0.65 ? 'GXPF1A' : 'JJ4PNA')", "ticks": false, "labels": true, "labelFontSize": 20, "labelPadding": 13, "title": null}},
                  "y": {"datum": 1.6, "type": "quantitative", "scale": {"domain": [-0.092, 2.0], "nice": false, "zero": false}, "axis": {"orient": "right", "values": [0.2, 0.4, 0.6, 0.8, 1.2, 1.4, 1.6, 1.8], "tickSize": -5, "tickWidth": 1.5, "title": null}}}},
               {"mark": {"type": "text", "align": "left", "baseline": "alphabetic", "font": "Liberation Serif", "fontWeight": "bold", "fontSize": 24, "color": "black"},
                "encoding": {"text": {"field": "sfLabel"}, "x": {"datum": 0.011, "type": "quantitative", "scale": {"domain": [0, 1], "nice": false, "zero": false}, "axis": {"orient": "bottom", "values": [0.177, 0.487, 0.831], "labelExpr": "datum.value < 0.3 ? 'DATA' : (datum.value < 0.65 ? 'GXPF1A' : 'JJ4PNA')", "ticks": false, "labels": true, "labelFontSize": 20, "labelPadding": 13, "title": null}},
                  "y": {"datum": 1.515, "type": "quantitative", "scale": {"domain": [-0.092, 2.0], "nice": false, "zero": false}, "axis": {"orient": "right", "values": [0.2, 0.4, 0.6, 0.8, 1.2, 1.4, 1.6, 1.8], "tickSize": -5, "tickWidth": 1.5, "title": null}}}}
             ]},
            {"data": {"name": "panels"},
             "transform": [{"filter": "datum.nucleus === '65Ni'"}],
             "layer": [
               {"mark": {"type": "rule", "color": "black", "strokeWidth": 1.5},
                "encoding": {"x": {"field": "sfRef", "type": "quantitative", "scale": {"domain": [-0.2125, 2.10625], "nice": false, "zero": false}, "axis": null}, "x2": {"datum": 0},
                  "y": {"datum": 1.855, "type": "quantitative", "scale": {"domain": [-0.092, 2.0], "nice": false, "zero": false}, "axis": null}}},
               {"mark": {"type": "tick", "orient": "vertical", "color": "black", "thickness": 1.5, "size": 7},
                "encoding": {"x": {"datum": 0, "type": "quantitative", "scale": {"domain": [-0.2125, 2.10625], "nice": false, "zero": false}, "axis": null},
                  "y": {"datum": 1.855, "type": "quantitative", "scale": {"domain": [-0.092, 2.0], "nice": false, "zero": false}, "axis": null}}},
               {"mark": {"type": "tick", "orient": "vertical", "color": "black", "thickness": 1.5, "size": 7},
                "encoding": {"x": {"field": "sfRef", "type": "quantitative", "scale": {"domain": [-0.2125, 2.10625], "nice": false, "zero": false}, "axis": null},
                  "y": {"datum": 1.855, "type": "quantitative", "scale": {"domain": [-0.092, 2.0], "nice": false, "zero": false}, "axis": null}}}
             ]}
          ]
        }
  ]
}
